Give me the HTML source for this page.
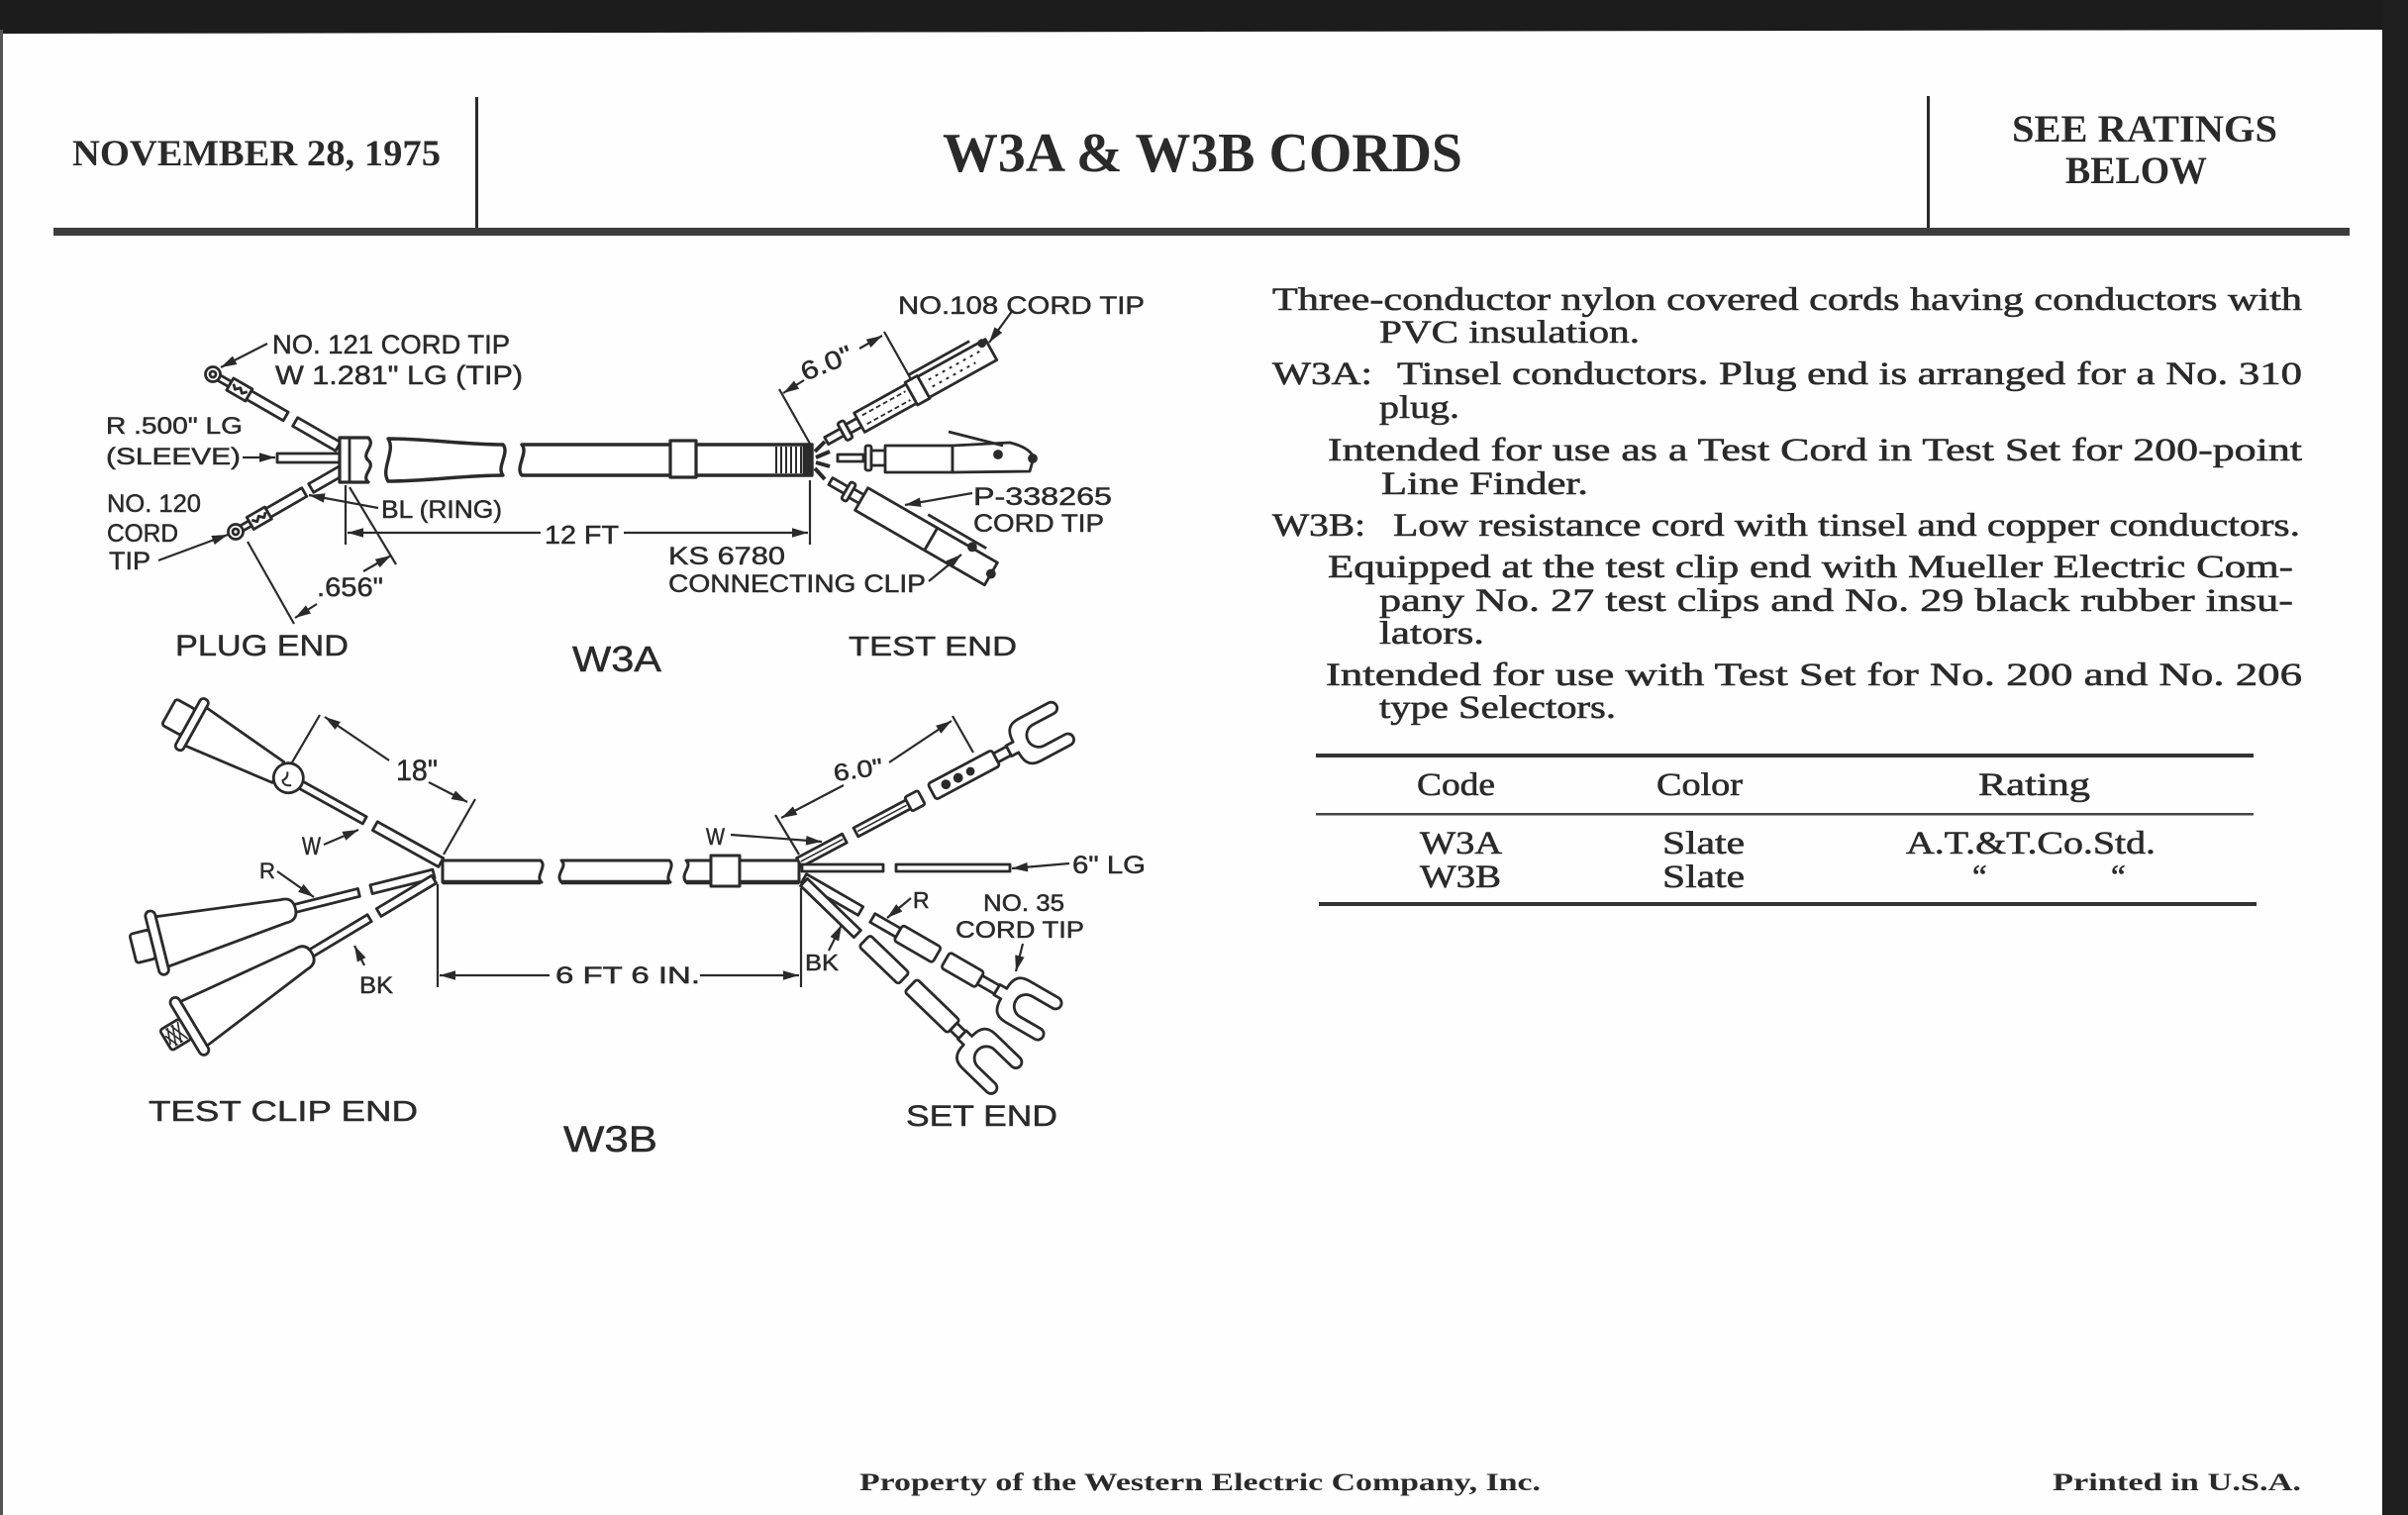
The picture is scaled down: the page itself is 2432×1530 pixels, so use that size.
<!DOCTYPE html>
<html><head><meta charset="utf-8"><style>
html,body{margin:0;padding:0;background:#fff;}
svg{display:block;}
.hd{font-family:"Liberation Serif",serif;font-weight:bold;fill:#2a2a2a;}
.bt{font-family:"Liberation Serif",serif;fill:#2a2a2a;font-size:33px;stroke:#2a2a2a;stroke-width:0.6px;}
.dl{font-family:"Liberation Sans",sans-serif;fill:#2a2a2a;stroke:#2a2a2a;stroke-width:0.5px;}
</style></head><body>
<svg width="2432" height="1530" viewBox="0 0 2432 1530" xmlns="http://www.w3.org/2000/svg">
<defs>
<marker id="ah" viewBox="0 0 10 6" refX="10" refY="3" markerWidth="16" markerHeight="10" markerUnits="userSpaceOnUse" orient="auto"><path d="M0,0 L10,3 L0,6 Z" fill="#2a2a2a"/></marker>
<path id="spade" d="M0,-6 H8 C8,-20 14,-24 24,-24 H58 A6,6 0 0 1 58,-12 H34 A12,12 0 0 0 34,12 H58 A6,6 0 0 1 58,24 H24 C14,24 8,20 8,6 H0 Z"/>
</defs>
<rect width="2432" height="1530" fill="#fefefe"/>
<!-- dark borders -->
<polygon points="0,0 2432,0 2432,30 0,34" fill="#1c1c1c"/>
<rect x="2406" y="0" width="26" height="1530" fill="#1e1e1e"/>
<rect x="0" y="30" width="3" height="1500" fill="#555"/>

<!-- header -->
<text class="hd" x="73" y="167" font-size="37" textLength="372" lengthAdjust="spacingAndGlyphs">NOVEMBER 28, 1975</text>
<rect x="480" y="98" width="3" height="132" fill="#2a2a2a"/>
<text class="hd" x="952" y="173" font-size="56" textLength="525" lengthAdjust="spacingAndGlyphs">W3A &amp; W3B CORDS</text>
<rect x="1946" y="97" width="3" height="133" fill="#2a2a2a"/>
<text class="hd" x="2032" y="143" font-size="39" textLength="268" lengthAdjust="spacingAndGlyphs">SEE RATINGS</text>
<text class="hd" x="2086" y="185" font-size="39" textLength="143" lengthAdjust="spacingAndGlyphs">BELOW</text>
<rect x="54" y="230" width="2319" height="8" fill="#3c3c3c"/>

<!-- body text -->
<text class="bt" x="1285" y="313" textLength="1040" lengthAdjust="spacingAndGlyphs">Three-conductor nylon covered cords having conductors with</text>
<text class="bt" x="1393" y="346" textLength="263" lengthAdjust="spacingAndGlyphs">PVC insulation.</text>
<text class="bt" x="1285" y="388" textLength="101" lengthAdjust="spacingAndGlyphs">W3A:</text>
<text class="bt" x="1411" y="388" textLength="914" lengthAdjust="spacingAndGlyphs">Tinsel conductors.  Plug end is arranged for a No. 310</text>
<text class="bt" x="1393" y="422" textLength="81" lengthAdjust="spacingAndGlyphs">plug.</text>
<text class="bt" x="1341" y="465" textLength="984" lengthAdjust="spacingAndGlyphs">Intended for use as a Test Cord in Test Set for 200-point</text>
<text class="bt" x="1395" y="499" textLength="209" lengthAdjust="spacingAndGlyphs">Line Finder.</text>
<text class="bt" x="1285" y="541" textLength="94" lengthAdjust="spacingAndGlyphs">W3B:</text>
<text class="bt" x="1407" y="541" textLength="916" lengthAdjust="spacingAndGlyphs">Low resistance cord with tinsel and copper conductors.</text>
<text class="bt" x="1341" y="583" textLength="975" lengthAdjust="spacingAndGlyphs">Equipped at the test clip end with Mueller Electric Com-</text>
<text class="bt" x="1393" y="617" textLength="923" lengthAdjust="spacingAndGlyphs">pany No. 27 test clips and No. 29 black rubber insu-</text>
<text class="bt" x="1393" y="650" textLength="106" lengthAdjust="spacingAndGlyphs">lators.</text>
<text class="bt" x="1339" y="692" textLength="986" lengthAdjust="spacingAndGlyphs">Intended for use with Test Set for No. 200 and No. 206</text>
<text class="bt" x="1393" y="725" textLength="239" lengthAdjust="spacingAndGlyphs">type Selectors.</text>

<!-- table -->
<rect x="1329" y="761" width="947" height="4" fill="#333"/>
<text class="bt" x="1431" y="803" textLength="79" lengthAdjust="spacingAndGlyphs">Code</text>
<text class="bt" x="1673" y="803" textLength="87" lengthAdjust="spacingAndGlyphs">Color</text>
<text class="bt" x="1998" y="803" textLength="113" lengthAdjust="spacingAndGlyphs">Rating</text>
<rect x="1329" y="821" width="947" height="2.5" fill="#444"/>
<text class="bt" x="1434" y="862" textLength="83" lengthAdjust="spacingAndGlyphs">W3A</text>
<text class="bt" x="1679" y="862" textLength="83" lengthAdjust="spacingAndGlyphs">Slate</text>
<text class="bt" x="1925" y="862" textLength="252" lengthAdjust="spacingAndGlyphs">A.T.&amp;T.Co.Std.</text>
<text class="bt" x="1434" y="896" textLength="82" lengthAdjust="spacingAndGlyphs">W3B</text>
<text class="bt" x="1679" y="896" textLength="83" lengthAdjust="spacingAndGlyphs">Slate</text>
<text class="bt" x="1992" y="896" font-size="38">“</text>
<text class="bt" x="2132" y="896" font-size="38">“</text>
<rect x="1332" y="911" width="947" height="4" fill="#333"/>

<!-- footer -->
<text class="hd" x="868" y="1505" font-size="25" textLength="688" lengthAdjust="spacingAndGlyphs">Property of the Western Electric Company, Inc.</text>
<text class="hd" x="2073" y="1505" font-size="25" textLength="251" lengthAdjust="spacingAndGlyphs">Printed in U.S.A.</text>

<!-- ============ W3A ============ -->
<g stroke="#2a2a2a" stroke-width="2.8" fill="#fff" stroke-linejoin="round">
  <!-- top tip wire -->
  <g transform="translate(215,378) rotate(30)">
    <rect x="7" y="-3" width="13" height="6"/>
    <rect x="20" y="-7" width="22" height="14"/>
    <path d="M23,-2 l4,4 l4,-4 l4,4 l4,-4" fill="none"/>
    <rect x="42" y="-5" width="43" height="10"/>
    <rect x="96" y="-5" width="50" height="10"/>
  </g>
  <circle cx="215" cy="378" r="7.5"/>
  <circle cx="215" cy="378" r="3"/>
  <!-- sleeve -->
  <rect x="280" y="458" width="64" height="9"/>
  <!-- ring wire -->
  <g transform="translate(238,537) rotate(-30)">
    <rect x="7" y="-3" width="10" height="6"/>
    <rect x="17" y="-7" width="21" height="14"/>
    <path d="M20,-2 l4,4 l4,-4 l4,4 l4,-4" fill="none"/>
    <rect x="38" y="-5" width="42" height="10"/>
    <rect x="88" y="-5" width="36" height="10"/>
  </g>
  <circle cx="238" cy="537" r="7.5"/>
  <circle cx="238" cy="537" r="3"/>
  <!-- plug block -->
  <path d="M343,442 H372 C380,450 364,458 372,465 C380,472 364,480 372,487 H343 Z" stroke-width="3.2"/>
  <line x1="353" y1="442" x2="353" y2="487"/>
  <!-- tapered piece -->
  <path d="M392,443 C430,443 470,449 508,449 C515,457 501,472 508,480 C470,480 430,486 392,486 C384,474 400,455 392,443 Z" stroke-width="3.4"/>
  <!-- main cord -->
  <path d="M527,449 H820 V480 H527 C520,472 534,457 527,449 Z" stroke-width="3.4"/>
  <rect x="677" y="445" width="26" height="37" stroke-width="3.2"/>
  <g fill="none" stroke-width="2">
    <line x1="784" y1="451" x2="784" y2="478"/><line x1="789" y1="451" x2="789" y2="478"/>
    <line x1="794" y1="451" x2="794" y2="478"/><line x1="799" y1="451" x2="799" y2="478"/>
    <line x1="804" y1="451" x2="804" y2="478"/><line x1="809" y1="451" x2="809" y2="478"/>
  </g>
  <rect x="812" y="449" width="8" height="31" fill="#2a2a2a"/>
  <g stroke-width="4" fill="none">
    <line x1="823" y1="456" x2="833" y2="446"/>
    <line x1="824" y1="462" x2="838" y2="456"/>
    <line x1="824" y1="467" x2="838" y2="471"/>
    <line x1="823" y1="473" x2="833" y2="484"/>
  </g>
  <!-- upper tip No.108 -->
  <g transform="translate(826,450) rotate(-29)">
    <rect x="10" y="-4" width="18" height="8"/>
    <rect x="28" y="-10" width="7" height="20" rx="2"/>
    <rect x="35" y="-5" width="13" height="10"/>
    <rect x="48" y="-11" width="60" height="22"/>
    <path d="M54,-5 H104 M54,5 H104" stroke-dasharray="5,3" fill="none" stroke-width="1.8"/>
    <rect x="108" y="-13" width="14" height="26"/>
    <rect x="122" y="-12" width="78" height="24"/>
    <path d="M130,-4 H190 M130,4 H180" stroke-dasharray="3,5" fill="none" stroke-width="2"/>
    <line x1="115" y1="-18" x2="185" y2="-18"/>
    <circle cx="195" cy="-10" r="3" fill="#2a2a2a"/>
  </g>
  <!-- middle tip P-338265 -->
  <rect x="846" y="459" width="26" height="7"/>
  <rect x="874" y="450" width="6" height="25" rx="2"/>
  <rect x="880" y="455" width="14" height="15"/>
  <rect x="894" y="450" width="68" height="27"/>
  <path d="M962,450 L1020,447 Q1040,452 1044,462 L1040,476 L962,477 Z"/>
  <line x1="958" y1="436" x2="1013" y2="450"/>
  <circle cx="1008" cy="459" r="3.5" fill="#2a2a2a"/>
  <circle cx="1043" cy="463" r="3.5" fill="#2a2a2a"/>
  <!-- lower tip connecting clip -->
  <g transform="translate(832,482) rotate(30)">
    <rect x="8" y="-4" width="18" height="8"/>
    <rect x="26" y="-10" width="6" height="20" rx="2"/>
    <rect x="32" y="-5" width="12" height="10"/>
    <rect x="44" y="-13" width="81" height="26"/>
    <rect x="125" y="-13" width="70" height="26"/>
    <line x1="110" y1="-20" x2="178" y2="-20"/>
    <circle cx="165" cy="-14" r="3.5" fill="#2a2a2a"/>
    <circle cx="195" cy="0" r="3.5" fill="#2a2a2a"/>
  </g>
  <!-- dimension & leader lines W3A -->
  <g fill="none" stroke-width="2.2">
    <line x1="349" y1="490" x2="349" y2="550"/>
    <line x1="546" y1="538" x2="351" y2="538" marker-end="url(#ah)"/>
    <line x1="630" y1="538" x2="816" y2="538" marker-end="url(#ah)"/>
    <line x1="818" y1="485" x2="818" y2="550"/>
    <line x1="353" y1="492" x2="400" y2="570"/>
    <line x1="250" y1="547" x2="297" y2="630"/>
    <line x1="367" y1="577" x2="395" y2="561" marker-end="url(#ah)"/>
    <line x1="320" y1="610" x2="298" y2="624" marker-end="url(#ah)"/>
    <line x1="270" y1="347" x2="223" y2="371" marker-end="url(#ah)"/>
    <line x1="245" y1="462" x2="278" y2="462" marker-end="url(#ah)"/>
    <line x1="160" y1="566" x2="230" y2="540" marker-end="url(#ah)"/>
    <line x1="382" y1="513" x2="312" y2="500" marker-end="url(#ah)"/>
    <line x1="787" y1="393" x2="818" y2="448"/>
    <line x1="893" y1="335" x2="920" y2="383"/>
    <line x1="812" y1="384" x2="791" y2="397" marker-end="url(#ah)"/>
    <line x1="868" y1="352" x2="891" y2="339" marker-end="url(#ah)"/>
    <line x1="1023" y1="313" x2="999" y2="346" marker-end="url(#ah)"/>
    <line x1="982" y1="498" x2="914" y2="510" marker-end="url(#ah)"/>
    <line x1="938" y1="587" x2="971" y2="560" marker-end="url(#ah)"/>
  </g>
</g>
<g class="dl">
  <text x="275" y="357" font-size="27" textLength="240" lengthAdjust="spacingAndGlyphs">NO. 121 CORD TIP</text>
  <text x="278" y="388" font-size="27" textLength="250" lengthAdjust="spacingAndGlyphs">W 1.281" LG (TIP)</text>
  <text x="107" y="438" font-size="24" textLength="138" lengthAdjust="spacingAndGlyphs">R .500" LG</text>
  <text x="107" y="469" font-size="24" textLength="136" lengthAdjust="spacingAndGlyphs">(SLEEVE)</text>
  <text x="108" y="517" font-size="25" textLength="95" lengthAdjust="spacingAndGlyphs">NO. 120</text>
  <text x="108" y="547" font-size="25" textLength="72" lengthAdjust="spacingAndGlyphs">CORD</text>
  <text x="110" y="575" font-size="25" textLength="42" lengthAdjust="spacingAndGlyphs">TIP</text>
  <text x="385" y="523" font-size="25" textLength="122" lengthAdjust="spacingAndGlyphs">BL (RING)</text>
  <text x="550" y="549" font-size="26" textLength="75" lengthAdjust="spacingAndGlyphs">12 FT</text>
  <text x="320" y="602" font-size="27" textLength="67" lengthAdjust="spacingAndGlyphs">.656"</text>
  <text x="177" y="662" font-size="30" textLength="175" lengthAdjust="spacingAndGlyphs">PLUG END</text>
  <text x="578" y="678" font-size="36" textLength="90" lengthAdjust="spacingAndGlyphs">W3A</text>
  <text x="857" y="662" font-size="28" textLength="170" lengthAdjust="spacingAndGlyphs">TEST END</text>
  <text x="907" y="317" font-size="25" textLength="249" lengthAdjust="spacingAndGlyphs">NO.108 CORD TIP</text>
  <text x="983" y="510" font-size="25" textLength="140" lengthAdjust="spacingAndGlyphs">P-338265</text>
  <text x="983" y="537" font-size="25" textLength="132" lengthAdjust="spacingAndGlyphs">CORD TIP</text>
  <text x="675" y="570" font-size="25" textLength="118" lengthAdjust="spacingAndGlyphs">KS 6780</text>
  <text x="675" y="598" font-size="25" textLength="260" lengthAdjust="spacingAndGlyphs">CONNECTING CLIP</text>
  <text x="0" y="0" font-size="26" textLength="54" lengthAdjust="spacingAndGlyphs" transform="translate(813,385) rotate(-22)">6.0"</text>
</g>

<!-- ============ W3B ============ -->
<g stroke="#2a2a2a" stroke-width="2.8" fill="#fff" stroke-linejoin="round">
  <!-- left clips -->
  <g transform="translate(447,872) rotate(209)">
    <rect x="2" y="-5" width="76" height="10"/>
    <rect x="90" y="-4" width="75" height="8"/>
    <path d="M190,-12 L285,-22 L285,22 L190,12 Z"/>
    <circle cx="178" cy="0" r="15"/>
    <path d="M172,-5 q6,-5 10,0 q-4,5 0,10" fill="none" stroke-width="2"/>
    <rect x="285" y="-29" width="9" height="58" rx="4"/>
    <rect x="294" y="-15" width="22" height="30" rx="3"/>
  </g>
  <g transform="translate(440,882) rotate(166)">
    <rect x="2" y="-4.5" width="65" height="9"/>
    <rect x="80" y="-4" width="70" height="8"/>
    <path d="M158,-12 L285,-26 L285,26 L158,12 Q146,12 146,0 Q146,-12 158,-12 Z"/>
    <rect x="285" y="-33" width="10" height="66" rx="5"/>
    <rect x="295" y="-15" width="20" height="30" rx="3"/>
  </g>
  <g transform="translate(440,887) rotate(149)">
    <rect x="2" y="-4.5" width="65" height="9"/>
    <rect x="78" y="-4" width="70" height="8"/>
    <path d="M158,-12 L285,-26 L285,26 L158,12 Q146,12 146,0 Q146,-12 158,-12 Z"/>
    <rect x="285" y="-33" width="10" height="66" rx="5"/>
    <rect x="295" y="-12" width="23" height="24" rx="3"/>
    <path d="M298,-10 l8,20 M304,-10 l8,20 M310,-10 l6,14 M306,-10 l-8,20 M312,-10 l-8,20 M316,-6 l-6,16" fill="none" stroke-width="1.6"/>
  </g>
  <!-- main cord -->
  <path d="M447,869 H546 C553,875 540,885 547,891 H447 Z" stroke-width="3"/>
  <line x1="447" y1="891" x2="546" y2="891" stroke-width="4.4"/>
  <path d="M567,869 H676 C683,875 670,885 677,891 H567 C560,883 574,875 567,869 Z" stroke-width="3"/>
  <line x1="567" y1="891" x2="676" y2="891" stroke-width="4.4"/>
  <path d="M693,869 H807 V891 H693 C686,883 700,875 693,869 Z" stroke-width="3"/>
  <line x1="693" y1="891" x2="807" y2="891" stroke-width="4.4"/>
  <rect x="718" y="864" width="29" height="31" stroke-width="3"/>
  <!-- right fan -->
  <g transform="translate(807,871) rotate(-28)">
    <rect x="0" y="-5" width="52" height="10"/>
    <line x1="2" y1="0" x2="50" y2="0" stroke-width="1.5"/>
    <rect x="65" y="-5" width="60" height="10"/>
    <line x1="67" y1="0" x2="123" y2="0" stroke-width="1.5"/>
    <rect x="125" y="-8" width="15" height="16" rx="2"/>
    <rect x="152" y="-9" width="73" height="18" rx="3"/>
    <circle cx="168" cy="0" r="3.5" fill="#2a2a2a"/><circle cx="182" cy="0" r="3.5" fill="#2a2a2a"/><circle cx="196" cy="0" r="3" fill="#2a2a2a"/>
    <rect x="225" y="-5" width="15" height="10"/>
    <use href="#spade" transform="translate(240,0)"/>
  </g>
  <rect x="810" y="873" width="82" height="7"/>
  <rect x="905" y="873" width="115" height="7"/>
  <g transform="translate(812,887) rotate(30)">
    <rect x="0" y="-5" width="66" height="10"/>
    <rect x="80" y="-5" width="30" height="10"/>
    <rect x="110" y="-9" width="45" height="18" rx="3"/>
    <rect x="165" y="-9" width="40" height="18" rx="3"/>
    <rect x="205" y="-5" width="20" height="10"/>
    <use href="#spade" transform="translate(225,0)"/>
  </g>
  <g transform="translate(812,891) rotate(44)">
    <rect x="0" y="-5" width="75" height="10"/>
    <rect x="85" y="-8" width="55" height="16" rx="3"/>
    <rect x="150" y="-9" width="60" height="18" rx="3"/>
    <rect x="210" y="-5" width="12" height="10"/>
    <use href="#spade" transform="translate(222,0)"/>
  </g>
  <!-- dimensions & leaders W3B -->
  <g fill="none" stroke-width="2.2">
    <line x1="323" y1="722" x2="295" y2="770"/>
    <line x1="480" y1="807" x2="448" y2="863"/>
    <line x1="393" y1="768" x2="328" y2="724" marker-end="url(#ah)"/>
    <line x1="433" y1="790" x2="472" y2="810" marker-end="url(#ah)"/>
    <line x1="327" y1="853" x2="362" y2="838" marker-end="url(#ah)"/>
    <line x1="280" y1="880" x2="317" y2="906" marker-end="url(#ah)"/>
    <line x1="368" y1="975" x2="358" y2="955" marker-end="url(#ah)"/>
    <line x1="442" y1="893" x2="442" y2="997"/>
    <line x1="555" y1="985" x2="444" y2="985" marker-end="url(#ah)"/>
    <line x1="707" y1="985" x2="807" y2="985" marker-end="url(#ah)"/>
    <line x1="809" y1="897" x2="809" y2="997"/>
    <line x1="783" y1="823" x2="807" y2="863"/>
    <line x1="962" y1="723" x2="983" y2="760"/>
    <line x1="852" y1="793" x2="789" y2="826" marker-end="url(#ah)"/>
    <line x1="898" y1="770" x2="961" y2="728" marker-end="url(#ah)"/>
    <line x1="738" y1="843" x2="830" y2="850" marker-end="url(#ah)"/>
    <line x1="1080" y1="872" x2="1022" y2="877" marker-end="url(#ah)"/>
    <line x1="920" y1="907" x2="896" y2="927" marker-end="url(#ah)"/>
    <line x1="1033" y1="953" x2="1026" y2="981" marker-end="url(#ah)"/>
    <line x1="837" y1="960" x2="850" y2="934" marker-end="url(#ah)"/>
  </g>
</g>
<g class="dl">
  <text x="400" y="788" font-size="30" textLength="42" lengthAdjust="spacingAndGlyphs">18"</text>
  <text x="305" y="863" font-size="25" textLength="19" lengthAdjust="spacingAndGlyphs">W</text>
  <text x="262" y="887" font-size="22">R</text>
  <text x="363" y="1003" font-size="24" textLength="34" lengthAdjust="spacingAndGlyphs">BK</text>
  <text x="561" y="993" font-size="24" textLength="146" lengthAdjust="spacingAndGlyphs">6 FT 6 IN.</text>
  <text x="150" y="1132" font-size="29" textLength="272" lengthAdjust="spacingAndGlyphs">TEST CLIP END</text>
  <text x="569" y="1163" font-size="37" textLength="95" lengthAdjust="spacingAndGlyphs">W3B</text>
  <text x="713" y="853" font-size="24" textLength="19" lengthAdjust="spacingAndGlyphs">W</text>
  <text x="1083" y="882" font-size="25" textLength="74" lengthAdjust="spacingAndGlyphs">6" LG</text>
  <text x="922" y="917" font-size="23">R</text>
  <text x="993" y="920" font-size="24" textLength="82" lengthAdjust="spacingAndGlyphs">NO. 35</text>
  <text x="965" y="947" font-size="24" textLength="130" lengthAdjust="spacingAndGlyphs">CORD TIP</text>
  <text x="813" y="980" font-size="23" textLength="34" lengthAdjust="spacingAndGlyphs">BK</text>
  <text x="915" y="1137" font-size="30" textLength="153" lengthAdjust="spacingAndGlyphs">SET END</text>
  <text x="0" y="0" font-size="24" textLength="50" lengthAdjust="spacingAndGlyphs" transform="translate(843,789) rotate(-8)">6.0"</text>
</g>
</svg>
</body></html>
